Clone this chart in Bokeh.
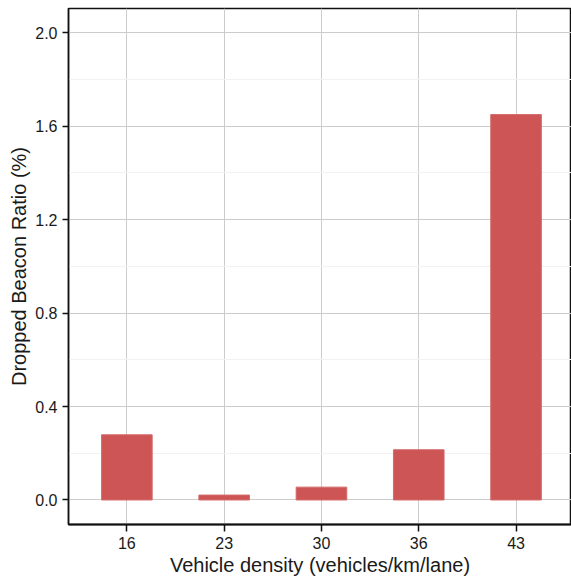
from bokeh.plotting import figure
from bokeh.models import Range1d, FixedTicker, ColumnDataSource
from bokeh.embed import file_html
from bokeh.resources import INLINE

categories = ["16", "23", "30", "36", "43"]
ratio = [0.279, 0.021, 0.055, 0.215, 1.65]
y_ticks = [0.0, 0.4, 0.8, 1.2, 1.6, 2.0]
y_minor = [0.2, 0.6, 1.0, 1.4, 1.8]

xpos = list(range(1, len(categories) + 1))
src = ColumnDataSource(dict(x=xpos, top=ratio, cat=categories))

p = figure(width=571, height=578, output_backend="svg", toolbar_location=None,
           x_range=Range1d(0.4, 5.57), y_range=Range1d(-0.105, 2.104),
           min_border_left=68, min_border_right=0, min_border_top=8, min_border_bottom=51)
p.outline_line_color = "#111111"
p.outline_line_width = 1.5
p.background_fill_color = "white"
p.border_fill_color = "white"

p.vbar(x="x", top="top", bottom=0, width=0.52, source=src,
       fill_color="#CD5555", line_color="#D46A6A", line_width=1)

# grids
p.xgrid.ticker = FixedTicker(ticks=xpos)
p.xgrid.grid_line_color = "#CCCCCC"
p.xgrid.grid_line_width = 1
p.ygrid.ticker = FixedTicker(ticks=y_ticks, minor_ticks=y_minor)
p.ygrid.grid_line_color = "#CCCCCC"
p.ygrid.grid_line_width = 1
p.ygrid.minor_grid_line_color = "#F2F2F2"
p.ygrid.minor_grid_line_width = 1
p.grid.level = "underlay"

# x axis
p.xaxis.ticker = FixedTicker(ticks=xpos)
p.xaxis.major_label_overrides = {x: c for x, c in zip(xpos, categories)}
p.xaxis.axis_label = "Vehicle density (vehicles/km/lane)"
p.xaxis.axis_line_width = 2
p.xaxis.axis_line_color = "#111111"
p.xaxis.minor_tick_line_color = None
p.xaxis.major_tick_in = 0
p.xaxis.major_tick_out = 7
p.xaxis.major_tick_line_width = 1.5
p.xaxis.major_tick_line_color = "#111111"

# y axis
p.yaxis.ticker = FixedTicker(ticks=y_ticks)
p.yaxis.major_label_overrides = {t: f"{t:.1f}" for t in y_ticks}
p.yaxis.axis_label = "Dropped Beacon Ratio (%)"
p.yaxis.axis_line_color = "#111111"
p.yaxis.axis_line_width = 1.5
p.yaxis.minor_tick_line_color = None
p.yaxis.major_tick_in = 0
p.yaxis.major_tick_out = 6
p.yaxis.major_tick_line_width = 1.5
p.yaxis.major_tick_line_color = "#111111"

for ax in (p.xaxis, p.yaxis):
    ax.major_label_text_font = "Liberation Sans"
    ax.major_label_text_font_size = "16px"
    ax.major_label_text_color = "#1A1A1A"
    ax.axis_label_text_font = "Liberation Sans"
    ax.axis_label_text_font_size = "20px"
    ax.axis_label_text_font_style = "normal"
    ax.axis_label_text_color = "#1A1A1A"
    ax.major_label_standoff = 5
    ax.axis_label_standoff = 2

open("out.html", "w").write(file_html(p, INLINE))
